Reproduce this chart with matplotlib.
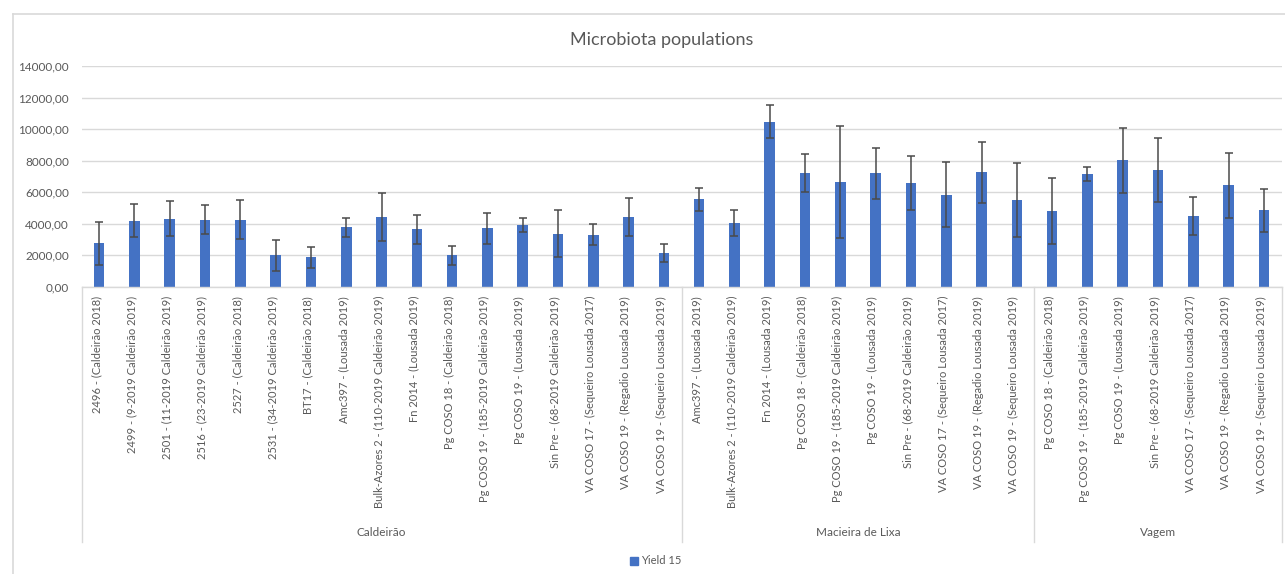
import matplotlib
matplotlib.use("Agg")
import matplotlib.pyplot as plt
from matplotlib.lines import Line2D
from matplotlib.patches import Rectangle
from matplotlib.ticker import FuncFormatter

# ---- data ----
groups = ["Caldeirão", "Macieira de Lixa", "Vagem"]

caldeirao_labels = [
    "2496 - (Caldeirão 2018)",
    "2499 - (9-2019 Caldeirão 2019)",
    "2501 - (11-2019 Caldeirão 2019)",
    "2516 - (23-2019 Caldeirão 2019)",
    "2527 - (Caldeirão 2018)",
    "2531 - (34-2019 Caldeirão 2019)",
    "BT17 - (Caldeirão 2018)",
    "Amc397 - (Lousada 2019)",
    "Bulk-Azores 2 - (110-2019 Caldeirão 2019)",
    "Fn 2014 - (Lousada 2019)",
    "Pg COSO 18 - (Caldeirão 2018)",
    "Pg COSO 19 - (185-2019 Caldeirão 2019)",
    "Pg COSO 19 - (Lousada 2019)",
    "Sin Pre - (68-2019 Caldeirão 2019)",
    "VA COSO 17 - (Sequeiro Lousada 2017)",
    "VA COSO 19 - (Regadio Lousada 2019)",
    "VA COSO 19 - (Sequeiro Lousada 2019)",
]
caldeirao_yield = [2750, 4190, 4320, 4250, 4250, 1990, 1860, 3760, 4400,
                   3640, 1990, 3700, 3910, 3360, 3300, 4400, 2140]
caldeirao_err = [1350, 1050, 1120, 920, 1230, 1000, 680, 620, 1530,
                 930, 610, 970, 445, 1500, 680, 1200, 550]

macieira_labels = [
    "Amc397 - (Lousada 2019)",
    "Bulk-Azores 2 - (110-2019 Caldeirão 2019)",
    "Fn 2014 - (Lousada 2019)",
    "Pg COSO 18 - (Caldeirão 2018)",
    "Pg COSO 19 - (185-2019 Caldeirão 2019)",
    "Pg COSO 19 - (Lousada 2019)",
    "Sin Pre - (68-2019 Caldeirão 2019)",
    "VA COSO 17 - (Sequeiro Lousada 2017)",
    "VA COSO 19 - (Regadio Lousada 2019)",
    "VA COSO 19 - (Sequeiro Lousada 2019)",
]
macieira_yield = [5540, 4040, 10470, 7190, 6640, 7190, 6580, 5840, 7250, 5480]
macieira_err = [730, 850, 1050, 1200, 3580, 1640, 1740, 2080, 1950, 2350]

vagem_labels = [
    "Pg COSO 18 - (Caldeirão 2018)",
    "Pg COSO 19 - (185-2019 Caldeirão 2019)",
    "Pg COSO 19 - (Lousada 2019)",
    "Sin Pre - (68-2019 Caldeirão 2019)",
    "VA COSO 17 - (Sequeiro Lousada 2017)",
    "VA COSO 19 - (Regadio Lousada 2019)",
    "VA COSO 19 - (Sequeiro Lousada 2019)",
]
vagem_yield = [4800, 7130, 8010, 7400, 4460, 6430, 4860]
vagem_err = [2080, 450, 2050, 2020, 1200, 2080, 1360]

series_name = "Yield 15"
y_ticks = [0, 2000, 4000, 6000, 8000, 10000, 12000, 14000]

# ---- style ----
plt.rcParams["font.family"] = ["Lato", "DejaVu Sans"]
TEXT = "#595959"
GRID = "#d9d9d9"
BAR = "#4472C4"
W, H = 1285, 574

group_labels = [caldeirao_labels, macieira_labels, vagem_labels]
group_yield = [caldeirao_yield, macieira_yield, vagem_yield]
group_err = [caldeirao_err, macieira_err, vagem_err]

labels = [l for g in group_labels for l in g]
values = [v for g in group_yield for v in g]
errors = [e for g in group_err for e in g]
xs = list(range(len(values)))

fig = plt.figure(figsize=(W / 100, H / 100), dpi=100)
fig.patch.set_facecolor("white")

# chart frame
fig.add_artist(Line2D([12.5 / W, 12.5 / W], [0, 1 - 13.5 / H], color=GRID, lw=1.2,
                      transform=fig.transFigure))
fig.add_artist(Line2D([12.5 / W, 1], [1 - 13.5 / H, 1 - 13.5 / H], color=GRID, lw=1.2,
                      transform=fig.transFigure))

# plot area in pixels
left, right = 81.5, 1281.5
y0, ytop = 286.7, 66.0
ax = fig.add_axes([left / W, 1 - y0 / H, (right - left) / W, (y0 - ytop) / H])
ax.set_xlim(-0.5, len(values) - 0.5)
ax.set_ylim(0, 14000)

ax.bar(xs, values, width=0.3, color=BAR, zorder=3, label=series_name)
ax.errorbar(xs, values, yerr=errors, fmt="none", ecolor="#4a4a4a", elinewidth=1.1,
            capsize=3.2, capthick=1.1, zorder=4)

ax.set_yticks(y_ticks)
ax.yaxis.set_major_formatter(FuncFormatter(lambda v, p: f"{v:.2f}".replace(".", ",")))
ax.tick_params(axis="y", length=0, pad=9, labelsize=8.5, labelcolor=TEXT)
ax.set_xticks([])
ax.grid(axis="y", color=GRID, lw=1, zorder=0)
for s in ["top", "right", "left"]:
    ax.spines[s].set_visible(False)
ax.spines["bottom"].set_color(GRID)
ax.spines["bottom"].set_linewidth(1)
ax.spines["bottom"].set_zorder(5)

px = (y0 - ytop)  # axes height in pixels
tr = ax.get_xaxis_transform()

# category labels
for x, lab in zip(xs, labels):
    ax.text(x - 0.08, -(296 - y0) / px, lab, rotation=90, ha="center", va="top",
            fontsize=8, color=TEXT, transform=tr, clip_on=False)

# group separators and group names
line_bottom = -(542 - y0) / px
bounds = [-0.5]
for g in group_yield:
    bounds.append(bounds[-1] + len(g))
for b in bounds:
    ax.add_line(Line2D([b, b], [0, line_bottom], color=GRID, lw=1, transform=tr,
                       clip_on=False))
for i, name in enumerate(groups):
    cx = (bounds[i] + bounds[i + 1]) / 2
    ax.text(cx, -(533 - y0) / px, name, ha="center", va="center", fontsize=8.5,
            color=TEXT, transform=tr, clip_on=False)

# title
fig.text(662 / W, 1 - 40 / H, "Microbiota populations", ha="center", va="center",
         fontsize=13, color=TEXT)

# legend
fig.legend(handles=[Rectangle((0, 0), 1, 1, color=BAR)], labels=[series_name],
           loc="center", bbox_to_anchor=(656 / W, 1 - 561 / H), frameon=False,
           fontsize=8, labelcolor=TEXT, handlelength=0.7, handleheight=0.7,
           handletextpad=0.3)

fig.savefig("out.png", dpi=100)
